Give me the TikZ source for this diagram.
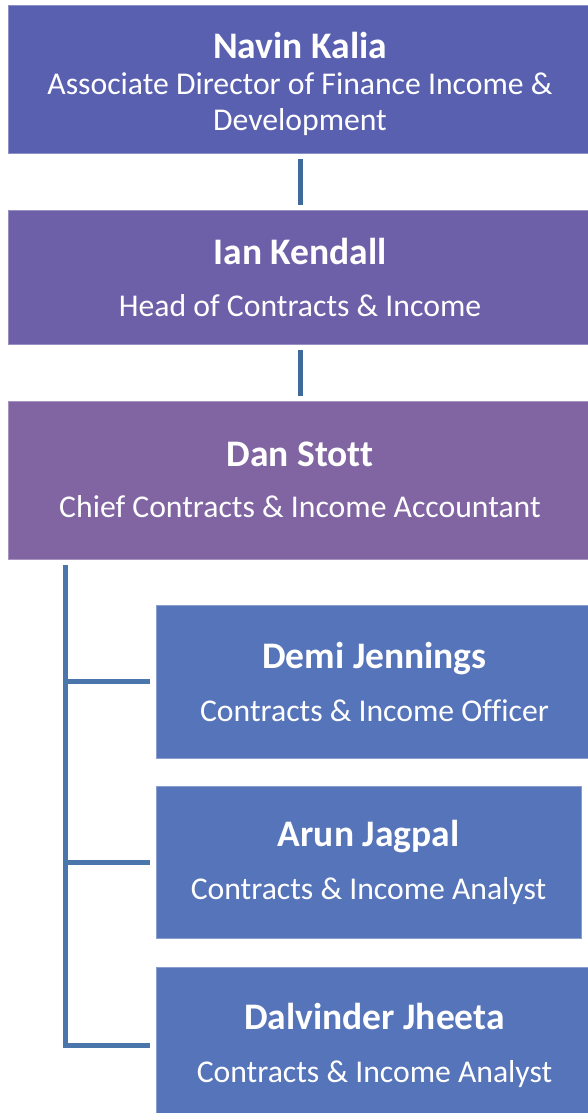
\documentclass[tikz,border=0pt]{standalone}
\usepackage{fontspec}
\setmainfont[Ligatures=NoCommon]{Carlito}
\definecolor{directorfill}{RGB}{90,96,176}
\definecolor{headfill}{RGB}{110,96,168}
\definecolor{chieffill}{RGB}{128,101,162}
\definecolor{stafffill}{RGB}{86,116,185}
\definecolor{linkcol}{RGB}{64,106,156}
\definecolor{branchcol}{RGB}{74,118,172}
\newcommand{\staffname}[1]{{\fontsize{37.5}{36}\selectfont\bfseries #1}}
\begin{document}
\begin{tikzpicture}
        [x=1pt, y=-1pt,
        every node/.style={text=white, font=\fontsize{31.7}{36}\selectfont, align=center, inner sep=0pt},
        director/.style={rectangle,draw=directorfill!70!white,fill=directorfill,line width=.8pt,minimum width=584pt},
        head/.style={rectangle,draw=headfill!70!white,fill=headfill,line width=.8pt,minimum width=584pt},
        chief/.style={rectangle,draw=chieffill!70!white,fill=chieffill,line width=.8pt,minimum width=584pt},
        staff/.style={rectangle,draw=stafffill!70!white,fill=stafffill,line width=.8pt,minimum height=153pt},
        link/.style={draw=linkcol,line width=5pt,shorten <=6pt,shorten >=5pt},
        branch/.style={draw=branchcol,line width=5pt}]
        \useasboundingbox (0,0) rectangle (587,1113);
        \node (navin) at (300,79) [director, minimum height=148pt] {\staffname{\rule{0pt}{36pt}Navin Kalia}\\Associate Director of Finance Income \&\\Development};
        \node (ian) at (300,277) [head, minimum height=134pt] {\staffname{Ian Kendall}\\[16pt]Head of Contracts \& Income};
        \node (dan) at (300,480) [chief, minimum height=158pt] {\staffname{Dan Stott}\\[15pt]Chief Contracts \& Income Accountant};
        \node (demi) at (374.5,681.5) [staff, minimum width=437pt] {\staffname{Demi Jennings}\\[17pt]Contracts \& Income Officer};
        \node (arun) at (368.5,862) [staff, minimum width=425pt, minimum height=152pt] {\staffname{Arun Jagpal}\\[17pt]Contracts \& Income Analyst};
        \node (dalvinder) at (374.5,1045) [staff, minimum width=437pt, minimum height=156pt] {\staffname{Dalvinder Jheeta}\\[17pt]Contracts \& Income Analyst};
        \draw[link] (navin) -- (ian);
        \draw[link] (ian) -- (dan);
        \coordinate (trunk) at (65,565);
        \draw[branch] (trunk) |- ([xshift=-6pt]dalvinder.west);
        \foreach \n in {demi,arun}
          \draw[branch] (trunk |- \n.west) -- ([xshift=-6pt]\n.west);
      \end{tikzpicture}
\end{document}
